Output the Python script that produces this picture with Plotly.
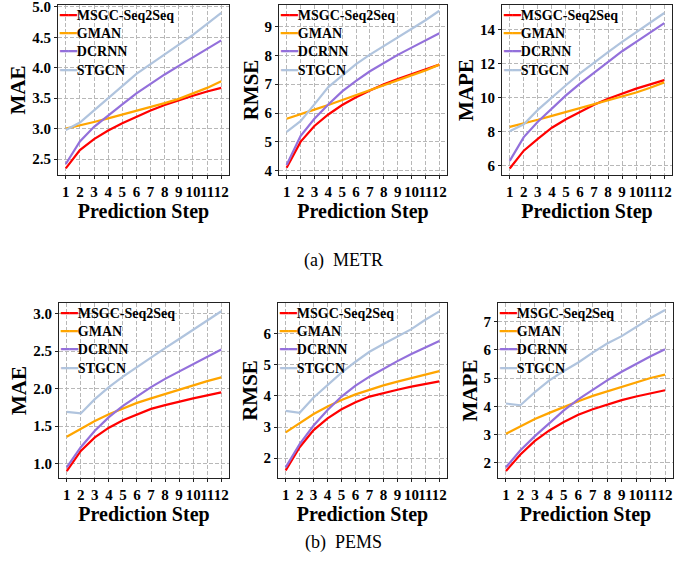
import plotly.graph_objects as go

steps = list(range(1, 13))
models = ["MSGC-Seq2Seq", "GMAN", "DCRNN", "STGCN"]
colors = ["#ff0000", "#ffa500", "#9370db", "#b0c4de"]

# METR
metr_mae = {
    "MSGC-Seq2Seq": [2.35, 2.65, 2.83, 2.97, 3.09, 3.20, 3.30, 3.39, 3.47, 3.54, 3.61, 3.67],
    "GMAN": [3.00, 3.05, 3.11, 3.17, 3.23, 3.29, 3.35, 3.42, 3.49, 3.58, 3.67, 3.78],
    "DCRNN": [2.42, 2.79, 3.03, 3.22, 3.40, 3.58, 3.74, 3.89, 4.03, 4.17, 4.31, 4.45],
    "STGCN": [2.98, 3.10, 3.30, 3.50, 3.70, 3.90, 4.06, 4.22, 4.38, 4.54, 4.72, 4.90],
}
metr_rmse = {
    "MSGC-Seq2Seq": [4.10, 5.00, 5.55, 5.95, 6.28, 6.55, 6.78, 7.00, 7.18, 7.35, 7.52, 7.68],
    "GMAN": [5.80, 5.95, 6.12, 6.28, 6.45, 6.62, 6.80, 6.96, 7.12, 7.30, 7.48, 7.68],
    "DCRNN": [4.20, 5.20, 5.80, 6.30, 6.75, 7.12, 7.45, 7.75, 8.02, 8.27, 8.52, 8.77],
    "STGCN": [5.35, 5.72, 6.30, 6.90, 7.30, 7.70, 8.03, 8.32, 8.62, 8.92, 9.22, 9.55],
}
metr_mape = {
    "MSGC-Seq2Seq": [5.85, 6.90, 7.60, 8.25, 8.75, 9.20, 9.60, 9.95, 10.25, 10.55, 10.80, 11.05],
    "GMAN": [8.30, 8.50, 8.72, 8.95, 9.18, 9.40, 9.62, 9.85, 10.08, 10.32, 10.60, 10.92],
    "DCRNN": [6.30, 7.70, 8.60, 9.40, 10.15, 10.85, 11.50, 12.15, 12.75, 13.30, 13.85, 14.40],
    "STGCN": [8.05, 8.45, 9.30, 10.05, 10.75, 11.45, 12.10, 12.70, 13.30, 13.85, 14.40, 15.00],
}
# PEMS
pems_mae = {
    "MSGC-Seq2Seq": [0.90, 1.17, 1.35, 1.48, 1.58, 1.66, 1.73, 1.78, 1.83, 1.87, 1.91, 1.95],
    "GMAN": [1.36, 1.47, 1.57, 1.66, 1.74, 1.81, 1.87, 1.93, 1.99, 2.04, 2.10, 2.15],
    "DCRNN": [0.95, 1.22, 1.44, 1.62, 1.77, 1.90, 2.02, 2.13, 2.23, 2.33, 2.42, 2.52],
    "STGCN": [1.69, 1.67, 1.86, 2.02, 2.16, 2.29, 2.42, 2.54, 2.66, 2.78, 2.91, 3.03],
}
pems_rmse = {
    "MSGC-Seq2Seq": [1.60, 2.35, 2.90, 3.28, 3.57, 3.80, 3.98, 4.10, 4.20, 4.30, 4.38, 4.47],
    "GMAN": [2.83, 3.13, 3.42, 3.66, 3.87, 4.05, 4.20, 4.34, 4.46, 4.58, 4.69, 4.80],
    "DCRNN": [1.70, 2.45, 3.05, 3.55, 3.98, 4.33, 4.62, 4.88, 5.12, 5.35, 5.56, 5.77],
    "STGCN": [3.52, 3.46, 3.95, 4.35, 4.75, 5.10, 5.42, 5.67, 5.92, 6.15, 6.45, 6.72],
}
pems_mape = {
    "MSGC-Seq2Seq": [1.72, 2.30, 2.78, 3.15, 3.45, 3.70, 3.90, 4.07, 4.22, 4.35, 4.46, 4.57],
    "GMAN": [3.03, 3.30, 3.55, 3.77, 3.98, 4.18, 4.37, 4.53, 4.70, 4.85, 5.00, 5.12],
    "DCRNN": [1.85, 2.45, 2.95, 3.42, 3.86, 4.25, 4.60, 4.92, 5.22, 5.50, 5.77, 6.02],
    "STGCN": [4.10, 4.04, 4.50, 4.92, 5.25, 5.55, 5.90, 6.22, 6.48, 6.80, 7.12, 7.40],
}

W, H = 696, 573
panels = [
    # data, ytitle, px x0, x1, py top, bottom, yrange, dtick, tickformat
    (metr_mae, "MAE", 58, 229, 5, 175, [2.24, 5.03], 0.5, ".1f"),
    (metr_rmse, "RMSE", 279, 447, 5, 175, [3.85, 9.75], 1, "d"),
    (metr_mape, "MAPE", 502, 672, 5, 175, [5.47, 15.47], 2, "d"),
    (pems_mae, "MAE", 59, 229, 303, 478, [0.81, 3.14], 0.5, ".1f"),
    (pems_rmse, "RMSE", 278, 447, 303, 478, [1.36, 6.99], 1, "d"),
    (pems_mape, "MAPE", 498, 673, 303, 478, [1.47, 7.65], 1, "d"),
]


def px(x):
    return x / W


def py(y):
    return 1 - y / H


FONT = "Liberation Serif, Times New Roman, Times, serif"
fig = go.Figure()
layout = dict(
    width=W, height=H, margin=dict(l=0, r=0, t=0, b=0),
    paper_bgcolor="white", plot_bgcolor="white",
    font=dict(family=FONT, color="black"),
    showlegend=False,
)
annotations = []

for i, (data, ytitle, x0, x1, yt, yb, yr, dt, tf) in enumerate(panels):
    k = i + 1
    xa = "xaxis" if k == 1 else f"xaxis{k}"
    ya = "yaxis" if k == 1 else f"yaxis{k}"
    for m, c in zip(models, colors):
        fig.add_trace(go.Scatter(
            x=steps, y=data[m], mode="lines", name=m,
            line=dict(color=c, width=2.2),
            xaxis="x" if k == 1 else f"x{k}",
            yaxis="y" if k == 1 else f"y{k}",
        ))
    dom_x = [px(x0), px(x1)]
    dom_y = [py(yb), py(yt)]
    axis_common = dict(
        showline=True, mirror=True, linecolor="#222", linewidth=1.2,
        showgrid=True, gridcolor="#b8b8b8", griddash="4px,2px", gridwidth=1,
        ticks="outside", ticklen=3, tickcolor="#222",
        tickfont=dict(family=FONT, size=15, color="black", weight="bold"),
        zeroline=False, automargin=False, ticklabeloverflow="allow",
    )
    layout[xa] = dict(
        axis_common, domain=dom_x, anchor="y" if k == 1 else f"y{k}",
        range=[0.45, 12.55], tickmode="array", tickvals=steps,
        ticktext=[str(s) for s in steps], tickangle=0,
        title=dict(text="Prediction Step", standoff=2,
                   font=dict(family=FONT, size=20, color="black", weight="bold")),
    )
    layout[ya] = dict(
        axis_common, domain=dom_y, anchor="x" if k == 1 else f"x{k}",
        range=yr, dtick=dt, tickformat=tf,
        title=dict(text=ytitle, standoff=0,
                   font=dict(family=FONT, size=21, color="black", weight="bold")),
    )
    # legend built from the model names / colours
    legend_lines = [
        f"<span style='color:{c};font-family:DejaVu Sans'>━━</span>{m}"
        for m, c in zip(models, colors)
    ]
    annotations.append(dict(
        text="<b>" + "<br>".join(legend_lines) + "</b>",
        x=px(x0 - 1), y=py(yt - 0.5), xref="paper", yref="paper",
        xanchor="left", yanchor="top", align="left", showarrow=False,
        font=dict(family=FONT, size=14, color="black"),
    ))

annotations += [
    dict(text="(a)  METR", x=px(343), y=py(260), xref="paper", yref="paper",
         showarrow=False, font=dict(family=FONT, size=18, color="black")),
    dict(text="(b)  PEMS", x=px(343), y=py(555), xref="paper", yref="paper",
         showarrow=False, font=dict(family=FONT, size=18, color="black")),
]
layout["annotations"] = annotations

fig.update_layout(**layout)
# remove the page's default 8px body margin so the figure sits at the window origin
fig.write_html("out.html", config={"displayModeBar": False},
               post_script="document.body.style.margin='0px';")
